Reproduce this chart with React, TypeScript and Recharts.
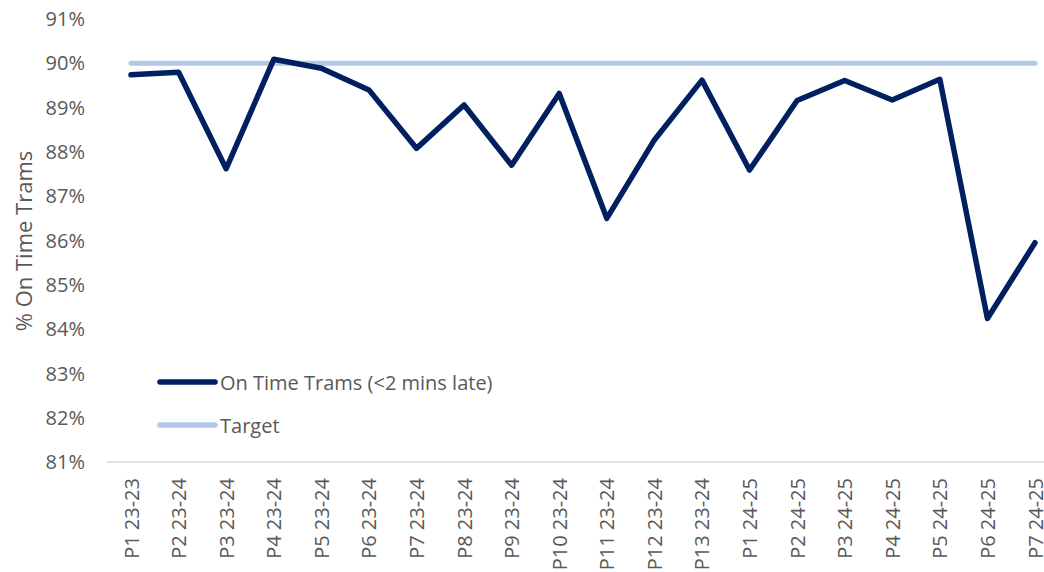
import { LineChart, Line, XAxis, YAxis, Legend } from "recharts";

const periods = [
  "P1 23-23", "P2 23-24", "P3 23-24", "P4 23-24", "P5 23-24",
  "P6 23-24", "P7 23-24", "P8 23-24", "P9 23-24", "P10 23-24",
  "P11 23-24", "P12 23-24", "P13 23-24", "P1 24-25", "P2 24-25",
  "P3 24-25", "P4 24-25", "P5 24-25", "P6 24-25", "P7 24-25",
];

const onTime = [
  89.74, 89.8, 87.62, 90.09, 89.89, 89.4, 88.08, 89.06, 87.7, 89.32,
  86.5, 88.27, 89.62, 87.59, 89.16, 89.61, 89.17, 89.64, 84.24, 85.95,
];

const target = [
  90, 90, 90, 90, 90, 90, 90, 90, 90, 90,
  90, 90, 90, 90, 90, 90, 90, 90, 90, 90,
];

const yTicks = [81, 82, 83, 84, 85, 86, 87, 88, 89, 90, 91];

const data = periods.map((p, i) => ({
  period: p,
  onTime: onTime[i],
  target: target[i],
}));

const FONT = "'Open Sans', sans-serif";
const GREY = "#595959";
const NAVY = "#002060";
const LIGHT = "#b4c7e7";

const XTick = ({ x, y, payload }: any) => (
  <text
    x={x}
    y={y}
    transform={`rotate(-90, ${x}, ${y})`}
    textAnchor="end"
    dominantBaseline="central"
    fill={GREY}
    fontSize={20}
    fontFamily={FONT}
  >
    {payload.value}
  </text>
);

const YTitle = () => (
  <text
    x={23}
    y={241}
    transform="rotate(-90, 23, 241)"
    textAnchor="middle"
    dominantBaseline="central"
    fill={GREY}
    fontSize={22}
    fontFamily={FONT}
  >
    % On Time Trams
  </text>
);

const legendItems = [
  { name: "On Time Trams (<2 mins late)", color: NAVY },
  { name: "Target", color: LIGHT },
];

const LegendBox = () => (
  <div style={{ fontFamily: FONT, fontSize: 20, color: GREY }}>
    {legendItems.map((item, i) => (
      <div
        key={item.name}
        style={{
          display: "flex",
          alignItems: "center",
          height: 30,
          marginTop: i === 0 ? 0 : 13,
          whiteSpace: "nowrap",
        }}
      >
        <svg width={61} height={10} style={{ marginRight: 2 }}>
          <line
            x1={3}
            y1={5}
            x2={58}
            y2={5}
            stroke={item.color}
            strokeWidth={5.5}
            strokeLinecap="round"
          />
        </svg>
        <span>{item.name}</span>
      </div>
    ))}
  </div>
);

export default function App() {
  return (
    <div
      style={{
        position: "fixed",
        left: 0,
        top: 0,
        width: 1044,
        height: 572,
        overflow: "hidden",
        background: "#fff",
      }}
    >
      <LineChart
        width={1060}
        height={572}
        data={data}
        margin={{ top: 19, right: 1, left: 0, bottom: 0 }}
      >
        <XAxis
          dataKey="period"
          interval={0}
          height={110}
          padding={{ left: 24, right: 24 }}
          tickLine={false}
          tickSize={0}
          tickMargin={16}
          axisLine={{ stroke: "#d9d9d9", strokeWidth: 1.5 }}
          tick={<XTick />}
        />
        <YAxis
          domain={[81, 91]}
          ticks={yTicks}
          width={107}
          axisLine={false}
          tickLine={false}
          tickSize={0}
          tickMargin={22}
          tickFormatter={(v) => `${v}%`}
          tick={{ fill: GREY, fontSize: 20, fontFamily: FONT }}
          label={{ content: () => <YTitle /> }}
        />
        <Legend
          layout="horizontal"
          verticalAlign="middle"
          align="center"
          content={() => <LegendBox />}
          wrapperStyle={{ left: 157, top: 367, width: "auto" }}
        />
        <Line
          type="linear"
          dataKey="target"
          name="Target"
          stroke={LIGHT}
          strokeWidth={5}
          strokeLinecap="round"
          dot={false}
          activeDot={false}
          isAnimationActive={false}
        />
        <Line
          type="linear"
          dataKey="onTime"
          name="On Time Trams (<2 mins late)"
          stroke={NAVY}
          strokeWidth={5.5}
          strokeLinecap="round"
          strokeLinejoin="round"
          dot={false}
          activeDot={false}
          isAnimationActive={false}
        />
      </LineChart>
    </div>
  );
}
